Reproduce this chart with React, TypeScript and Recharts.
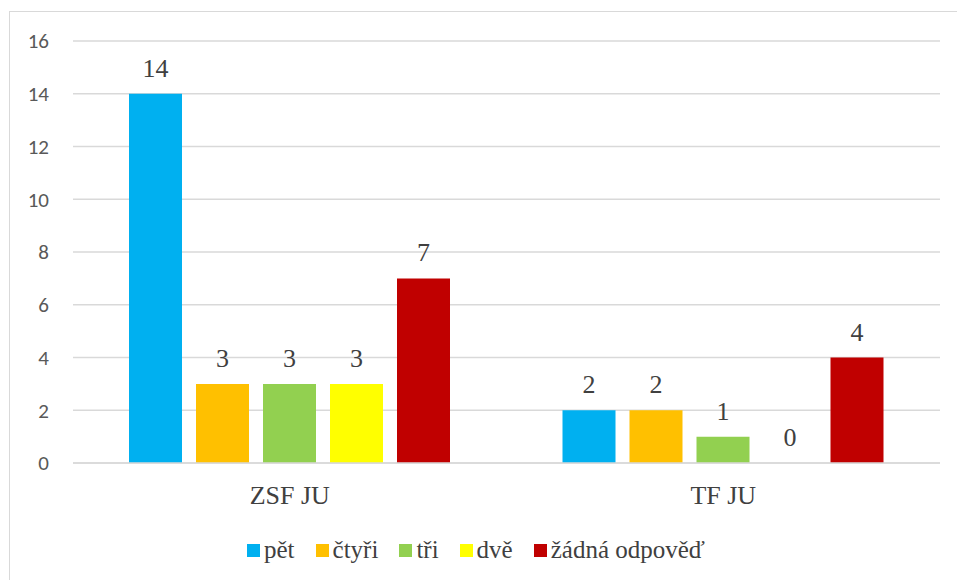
import { BarChart, Bar, XAxis, YAxis, CartesianGrid, Legend, LabelList } from 'recharts';

const CATEGORIES = ['ZSF JU', 'TF JU'];
const PET = [14, 2];
const CTYRI = [3, 2];
const TRI = [3, 1];
const DVE = [3, 0];
const ZADNA = [7, 4];
const Y_TICKS = [0, 2, 4, 6, 8, 10, 12, 14, 16];

const SERIES = [
    { key: 'pet', name: 'pět', color: '#00B0F0', values: PET },
    { key: 'ctyri', name: 'čtyři', color: '#FFC000', values: CTYRI },
    { key: 'tri', name: 'tři', color: '#92D050', values: TRI },
    { key: 'dve', name: 'dvě', color: '#FFFF00', values: DVE },
    { key: 'zadna', name: 'žádná odpověď', color: '#C00000', values: ZADNA },
];

const SERIF = 'Liberation Serif';
const SANS = 'Carlito';

const chartData = CATEGORIES.map((cat, i) => {
    const row: Record<string, string | number> = { cat };
    SERIES.forEach((s) => {
        row[s.key] = s.values[i];
    });
    return row;
});

function LegendBox() {
    return (
        <div style={{ height: 57, display: 'flex', justifyContent: 'center', alignItems: 'flex-start', paddingTop: 13, paddingLeft: 12, boxSizing: 'border-box', fontFamily: SERIF, fontSize: 25, color: '#404040' }}>
            {SERIES.map((s, i) => (
                <div key={s.key} style={{ display: 'flex', alignItems: 'center', marginRight: i < SERIES.length - 1 ? 21 : 0 }}>
                    <span style={{ width: 13, height: 13, background: s.color, marginRight: 4, display: 'inline-block' }} />
                    <span>{s.name}</span>
                </div>
            ))}
        </div>
    );
}

export default function App() {
    return (
        <div style={{ position: 'absolute', left: 0, top: 0, width: 957, height: 580, overflow: 'hidden', background: '#fff', fontFamily: SERIF }}>
            <div style={{ position: 'absolute', left: 9, top: 11, width: 980, height: 600, border: '1.5px solid #d9d9d9' }} />
            <div style={{ position: 'absolute', left: 0, top: 0 }}>
                <BarChart width={957} height={580} data={chartData} margin={{ top: 41, right: 17, left: 0, bottom: 0 }} barSize={53} barGap={14}>
                    <CartesianGrid vertical={false} stroke="#d9d9d9" strokeWidth={1.5} />
                    <YAxis
                        width={73}
                        domain={[0, 16]}
                        ticks={Y_TICKS}
                        axisLine={false}
                        tickLine={false}
                        tickSize={0}
                        tickMargin={24}
                        tick={{ fill: '#595959', fontSize: 21, fontFamily: SANS }}
                    />
                    <XAxis
                        dataKey="cat"
                        height={60}
                        axisLine={{ stroke: '#d9d9d9', strokeWidth: 1.5 }}
                        tickLine={false}
                        tickSize={0}
                        tickMargin={23}
                        tick={{ fill: '#404040', fontSize: 26, fontFamily: SERIF }}
                    />
                    <Legend verticalAlign="bottom" content={() => <LegendBox />} />
                    {SERIES.map((s) => (
                        <Bar key={s.key} dataKey={s.key} name={s.name} fill={s.color} minPointSize={0.01} isAnimationActive={false}>
                            <LabelList dataKey={s.key} position="top" offset={17} fill="#404040" fontSize={26} fontFamily={SERIF} />
                        </Bar>
                    ))}
                </BarChart>
            </div>
        </div>
    );
}
